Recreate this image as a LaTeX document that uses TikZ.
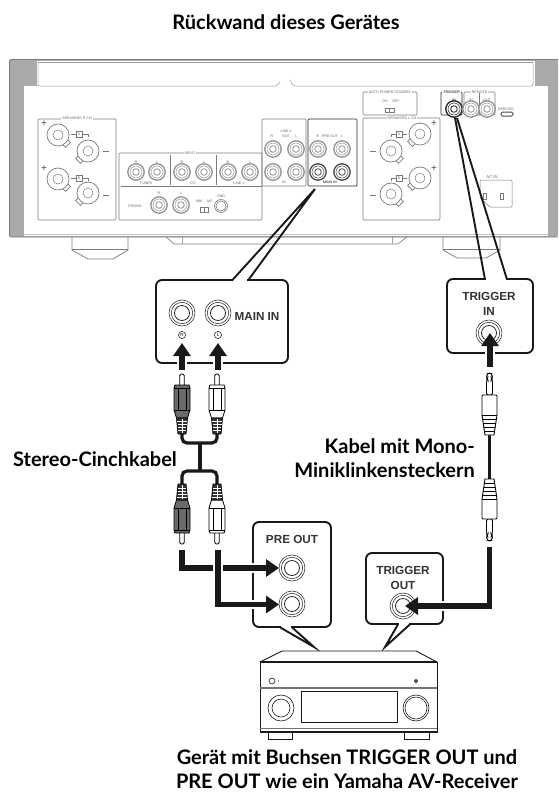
\documentclass[tikz,border=0pt]{standalone}
\usepackage{fontspec}
\setmainfont{Lato}
\newfontfamily\arialf{Liberation Sans}
\usetikzlibrary{arrows.meta,calc}
\definecolor{devline}{HTML}{7A7A7C}
\definecolor{devgray}{HTML}{A9AAAC}
\definecolor{darkplug}{HTML}{6A6A6C}
\newcounter{labc}
\tikzset{
  x=1pt,y=-1pt,
  devbox/.style={draw=devline,line width=0.6pt,rounded corners=1pt},
  devblack/.style={draw=black!85,line width=0.7pt,rounded corners=1pt},
  tinylab/.style={font=\arialf\fontsize{3.6}{4}\selectfont,text=black!60,inner sep=0.5pt},
  boxlab/.style={font=\arialf\fontsize{3.6}{4}\selectfont,text=black!60,inner sep=1pt,fill=white},
  bigtxt/.style={font=\bfseries\fontsize{20}{24}\selectfont,align=center,inner sep=0pt,text=black},
  bubtxt/.style={font=\arialf\bfseries\fontsize{11.7}{15}\selectfont,align=center,inner sep=0pt,text=black!80},
  bubble/.style={draw=black!90,line width=1.9pt,rounded corners=6pt,fill=white,inner sep=0pt},
  bubedge/.style={draw=black!90,line width=1.9pt,line join=miter},
  sigarrow/.style={line width=5.4pt,draw=black!90,-{Triangle[width=17pt,length=13pt]}},
  sigline/.style={line width=5.4pt,draw=black!90},
  halo/.style={line width=9.5pt,draw=white},
  cable/.style={line width=3.2pt,draw=black!90,rounded corners=5pt},
  thin ring/.style={draw=black!85,line width=0.55pt},
}
\newcommand\lab[4][tinylab]{\stepcounter{labc}\node[#1] (lab\thelabc) at (#2,#3) {#4};}
% bubble socket
\newcommand\bjack[2]{\draw[thin ring,fill=white] (#1,#2) circle[radius=13];
  \draw[thin ring] (#1,#2) circle[radius=10.7];
  \draw[thin ring,line width=0.8pt] (#1,#2) circle[radius=7.5];}
% device socket
\newcommand\djack[3][black!42]{\draw[#1,line width=1.3pt,fill=white] (#2,#3) circle[radius=8.2];
  \draw[#1,line width=0.5pt] (#2,#3) circle[radius=6];
  \draw[#1,line width=0.8pt] (#2,#3) circle[radius=3.3];}
\newcommand\term[3]{\begin{scope}[shift={(#1,#2)},rotate=#3]
  \draw[devline,line width=0.7pt,fill=white] (8.5,-3.5) rectangle (14,3.5);
  \draw[devline,line width=0.7pt,fill=white] (0,0) circle[radius=11];
  \draw[devline,line width=0.5pt] (0,0) circle[radius=5];
  \end{scope}}
% RCA plug: #1 x, #2 tip y, #3 direction (1 tip up, -1 tip down), #4 fill
\newcommand\rca[4]{\begin{scope}[shift={(#1,#2)},yscale=#3]
  \draw[black,line width=0.8pt,fill=white,rounded corners=1.5pt] (-2.2,13) -- (-2.2,0) -- (2.2,0) -- (2.2,13);
  \draw[black,line width=0.8pt,fill=#4] (-8,14) -- (-7,11) -- (7,11) -- (8,14) -- (8,36) -- (5.5,44) -- (-5.5,44) -- (-8,36) -- cycle;
  \draw[black,line width=0.6pt] (-4,14) -- (-4,36) (4,14) -- (4,36) (-8,14) -- (8,14) (-8,36) -- (8,36);
  \draw[black,line width=0.8pt,fill=black!80] (-5.5,44) -- (5.5,44) -- (4,60) -- (-4,60) -- cycle;
  \draw[white,line width=0.35pt] (-4.6,47) -- (4.6,47) (-4.5,50) -- (4.5,50) (-4.3,53) -- (4.3,53) (-4.1,56) -- (4.1,56) (0,45) -- (0,59);
  \end{scope}}
% mono plug
\newcommand\mono[3]{\begin{scope}[shift={(#1,#2)},yscale=#3]
  \draw[black,line width=0.9pt,fill=white,rounded corners=1.5pt] (-2,6) -- (-2.6,5) -- (-2.6,1) -- (0,0) -- (2.6,1) -- (2.6,5) -- (2,6) -- (3,8) -- (3,22) -- (-3,22) -- (-3,8) -- cycle;
  \draw[black,line width=0.9pt,fill=white] (-7.5,23) -- (-6.5,22) -- (6.5,22) -- (7.5,23) -- (7.5,42) -- (4.5,62) -- (-4.5,62) -- (-7.5,42) -- cycle;
  \draw[black,line width=0.8pt] (-7.5,42) -- (7.5,42) (-6.9,46) -- (6.9,46) (-6.3,50) -- (6.3,50) (-5.7,54) -- (5.7,54) (-5.1,58) -- (5.1,58);
  \end{scope}}
\begin{document}
\begin{tikzpicture}
\useasboundingbox (0,0) rectangle (558,793);
\fill[white] (0,0) rectangle (558,793);

%%%% Title
\node[bigtxt] (title) at (286,22) {Rückwand dieses Gerätes};

%%%% Rear panel
% feet
\draw[devline,line width=0.7pt,fill=white] (72,236) -- (72,250) -- (88,259) -- (113,259) -- (128,250) -- (128,236);
\draw[devline,line width=0.5pt] (72,249) -- (128,249);
\draw[devline,line width=0.7pt,fill=white] (443,236) -- (443,250) -- (457,258) -- (486,258) -- (500,250) -- (500,236);
\draw[devline,line width=0.5pt] (443,249) -- (500,249);
\draw[devline,line width=0.6pt,fill=white] (165,236) -- (174,244) -- (398,244) -- (408,236);
\draw[black!35,line width=0.5pt] (182,237) -- (182,244) (392,237) -- (392,244);
% body
\fill[devgray,rounded corners=2pt] (9.5,59.5) rectangle (558,237);
\draw[devline,line width=0.9pt,rounded corners=2pt] (558,237) -- (9.5,237) -- (9.5,59.5) -- (558,59.5);
\fill[white] (24,86) rectangle (548,236);
\fill[white] (37,61) rectangle (535,86);
\draw[black!25,line width=1pt] (24,234.6) -- (548,234.6);
\draw[black!40,line width=0.5pt,rounded corners=2pt] (38,62) -- (38,86) -- (277,86) -- (280,82);
\draw[black!40,line width=0.5pt,rounded corners=2pt] (290,80) -- (293,86) -- (533,86) -- (533,62);
\draw[black!40,line width=0.5pt] (38,62) -- (533,62);
% Speakers R
\draw[devbox] (38,119) rectangle (116,220);
\lab[boxlab]{77}{118}{SPEAKERS R CH}
\term{58}{135}{-45}
\term{88}{151}{-135}
\term{58}{179}{-45}
\term{88}{193}{-135}
\lab[font=\arialf\fontsize{10}{10}\selectfont,inner sep=0pt,text=black!70]{44}{124}{+}
\lab[font=\arialf\fontsize{10}{10}\selectfont,inner sep=0pt,text=black!70]{44}{169}{+}
\draw[devline,line width=0.6pt] (103,151) -- (109,151) (103,195) -- (109,195);
\draw[devline,line width=0.4pt] (71,134) -- (76,134) (76,131.5) rectangle (82,137) (82,134) -- (88,134) -- (88,137);
\draw[devline,line width=0.4pt] (71,178) -- (76,178) (76,175.5) rectangle (82,181) (82,178) -- (88,178) -- (88,181);
\lab{79}{134.3}{A}
\lab{79}{178.3}{B}
% Input
\draw[devbox] (119,153) rectangle (262,220);
\lab[boxlab]{190}{153.5}{INPUT}
\draw[devline,line width=0.5pt] (170,155) -- (170,185) (216,155) -- (216,185) (121,186) -- (262,186);
\foreach \p in {136,157,182,204,228,250}{\djack{\p}{172}}
\lab{136}{162}{R}\lab{157}{162}{L}\lab{182}{162}{R}\lab{204}{162}{L}\lab{228}{162}{R}\lab{250}{162}{L}
\lab{146}{183}{TUNER}\lab{193}{183}{CD}\lab{239}{183}{LINE 1}
\djack{159}{205}\djack{181}{205}
\lab{159}{193}{R}\lab{181}{193}{L}
\lab{135}{206}{PHONO}
\lab{199}{201}{MM}\lab{210}{201}{MC}
\draw[devline,line width=0.4pt] (200.5,207) rectangle (208,212) (204.2,207) -- (204.2,212);
\lab{221}{196}{GND}
\draw[devline,line width=0.6pt] (221,206) circle[radius=6.5] (221,206) circle[radius=5];
% Line 2
\draw[devbox] (262,119) rectangle (306,186);
\lab{272}{136}{R}\lab{286}{131}{LINE 2}\lab{286}{136}{OUT}\lab{296}{136}{L}\lab{284}{182}{IN}
\djack{273}{149}\djack{296}{149}\djack{273}{172}\djack{296}{172}
% Main in
\draw[devblack] (308,119) rectangle (357,186);
\lab{318}{136}{R}\lab{330}{136}{PRE OUT}\lab{342}{136}{L}\lab[tinylab,text=black]{330}{182}{MAIN IN}
\djack{318}{149}\djack{342}{149}\djack[black!70]{318}{172}\djack[black!70]{342}{172}
% Auto power
\draw[devbox] (363,92) rectangle (417,115);
\lab[boxlab]{390}{92}{AUTO POWER STANDBY}
\lab{385}{101}{ON}\lab{396}{101}{OFF}
\draw[devline,line width=0.4pt] (385,108) rectangle (394,112.5) (389.5,108) -- (389.5,112.5);
% Speakers L
\draw[devbox] (363,118) rectangle (440,220);
\lab[boxlab]{402}{118}{SPEAKERS L CH}
\term{420}{134}{-135}
\term{391}{151}{-45}
\term{420}{178}{-135}
\term{391}{194}{-45}
\lab[font=\arialf\fontsize{10}{10}\selectfont,inner sep=0pt,text=black!70]{434}{124}{+}
\lab[font=\arialf\fontsize{10}{10}\selectfont,inner sep=0pt,text=black!70]{434}{169}{+}
\draw[devline,line width=0.6pt] (370,151) -- (376,151) (370,195) -- (376,195);
\draw[devline,line width=0.4pt] (391,137) -- (391,134) -- (396,134) (396,131.5) rectangle (402,137) (402,134) -- (407,134);
\draw[devline,line width=0.4pt] (391,181) -- (391,178) -- (396,178) (396,175.5) rectangle (402,181) (402,178) -- (407,178);
\lab{399}{134.3}{A}\lab{399}{178.3}{B}
% Trigger
\draw[devblack] (441,92) rectangle (462,115);
\lab[boxlab,text=black]{451.5}{92}{TRIGGER}
\lab[tinylab,text=black]{454}{100}{IN}
\djack[black!85]{454}{109}
% Remote
\draw[devbox] (464,92) rectangle (495,115);
\lab[boxlab]{479.5}{92}{REMOTE}
\draw[devline,line width=0.4pt] (479.3,93) -- (479.3,115);
\lab{471}{100}{IN}\lab{487}{100}{OUT}
\djack{471}{109}\djack{487}{109}
\lab{506}{109}{SERVICE}
\draw[black!70,line width=1pt,rounded corners=1.5pt] (501,112) rectangle (513,116);
% AC in
\lab[tinylab,font=\arialf\fontsize{4.2}{5}\selectfont]{492}{177}{AC IN}
\draw[devline,line width=0.5pt,rounded corners=1pt] (480,180) -- (512,180) -- (512,207) -- (490,207) -- (480,198) -- cycle;
\draw[devline,line width=0.5pt] (483,193) rectangle (486,199) (500,193) rectangle (503,199);

%%%% Upper bubbles
\coordinate (mainTip) at (315,189);
\coordinate (trigTipA) at (455,118);
\coordinate (trigTipB) at (457,118);
\node[bubble,minimum width=132pt,minimum height=83pt] (mainbub) at (222,321.5) {};
\draw[white,line width=3pt] (233,280) -- (247,280);
\draw[bubedge] (232,280.5) -- (mainTip) -- (248,280.5);
\node[bubble,minimum width=86pt,minimum height=74pt] (trigbub) at (490,316) {};
\draw[white,line width=3pt] (486,279) -- (506,279);
\draw[bubedge] (485,279.5) -- (trigTipA);
\draw[bubedge] (trigTipB) -- (507,279.5);

\bjack{182}{313}\bjack{218}{313}
\draw[thin ring] (182,335) circle[radius=3.6] (218,335) circle[radius=3.6];
\lab[font=\arialf\fontsize{4.5}{5}\selectfont,inner sep=0pt]{182}{335}{R}
\lab[font=\arialf\fontsize{4.5}{5}\selectfont,inner sep=0pt]{218}{335}{L}
\node[bubtxt,anchor=center] (mainin) at (257,316) {MAIN IN};
\node[bubtxt] (trigin) at (489,303.5) {TRIGGER\\IN};
\bjack{489}{333}

\coordinate (rA) at (182,370);\coordinate (rB) at (182,343);
\coordinate (lA) at (218,370);\coordinate (lB) at (218,343);
\coordinate (tA) at (490,367);\coordinate (tB) at (490,333);
\draw[halo] (rA) -- (182,356);\draw[halo] (lA) -- (218,356);\draw[halo] (tA) -- (490,345);
\draw[sigarrow] (rA) -- (rB);
\draw[sigarrow] (lA) -- (lB);
\draw[sigarrow] (tA) -- (tB);

%%%% Stereo cables
\draw[cable] (182,432) -- (182,443) -- (217,443) -- (217,432);
\draw[cable,rounded corners=0pt] (200,443) -- (200,471);
\draw[cable] (182,486) -- (182,471) -- (217,471) -- (217,486);
\rca{182}{374}{1}{darkplug}
\rca{217}{374}{1}{white}
\rca{182}{544}{-1}{darkplug}
\rca{217}{544}{-1}{white}
\node[bigtxt] (stereo) at (95,459) {Stereo-Cinchkabel};

%%%% Mono cable
\draw[line width=3.2pt,draw=black!90] (489.5,433) -- (489.5,481);
\mono{489.5}{373}{1}
\mono{489.5}{541}{-1}
\node[bigtxt,align=right,anchor=east] (monotxt) at (475,458) {Kabel mit Mono-\\Miniklinkensteckern};

%%%% Lower bubbles
\coordinate (preTip) at (314,647);
\coordinate (toutTip) at (385,647);
\node[bubble,minimum width=78pt,minimum height=105pt] (prebub) at (292,574.5) {};
\draw[white,line width=3pt] (281,627) -- (291,627);
\draw[bubedge] (280,627.3) -- (preTip) -- (292,627.3);
\node[bubtxt] (preout) at (292,539) {PRE OUT};
\bjack{292}{568}\bjack{292}{604}

\node[bubble,minimum width=77pt,minimum height=71pt] (toutbub) at (404.5,588.5) {};
\draw[white,line width=3pt] (399,624) -- (409,624);
\draw[bubedge] (398,624.3) -- (toutTip) -- (410,624.3);
\node[bubtxt] (trigout) at (403,577.5) {TRIGGER\\OUT};
\bjack{403}{606}

\coordinate (s1) at (182,550);\coordinate (s1c) at (182,568);\coordinate (j1) at (279,568);
\coordinate (s2) at (218,550);\coordinate (s2c) at (218,604.5);\coordinate (j2) at (279,604.5);
\coordinate (s3) at (489.5,547);\coordinate (s3c) at (489.5,606);\coordinate (j3) at (405,606);
\draw[halo] (190,568) -- (267,568);
\draw[halo] (230,604.5) -- (267,604.5);
\draw[halo] (489,606) -- (418,606);
\draw[sigarrow] (s1) -- (s1c) -- (j1);
\draw[white,line width=9.5pt] (218,560) -- (218,576);
\draw[sigarrow] (s2) -- (s2c) -- (j2);
\draw[sigarrow] (s3) -- (s3c) -- (j3);

%%%% Receiver
\draw[black!90,line width=0.7pt,fill=white] (268,732) rectangle (292,739);
\draw[black!90,line width=0.7pt,fill=white] (404,732) rectangle (429,739);
\draw[black!90,line width=0.9pt,fill=white,line join=round] (260,662) -- (282,651) -- (416,651) -- (437,662) -- cycle;
\draw[black!90,line width=0.9pt,fill=white] (260,662) rectangle (437,732);
\draw[black!90,line width=1.4pt] (260,662) -- (437,662);
\draw[black!55,line width=1.2pt] (260,688) -- (437,688);
\draw[black!55,line width=0.9pt] (260,728.5) -- (437,728.5);
\draw[black!90,line width=1.4pt] (260,732) -- (437,732);
\draw[black!90,line width=0.8pt] (301,691) rectangle (397,722);
\draw[black!90,line width=0.6pt] (281,708) circle[radius=13] (281,708) circle[radius=9];
\draw[black!90,line width=0.6pt] (416,708) circle[radius=13] (416,708) circle[radius=11];
\draw[black!90,line width=0.6pt] (272,681) circle[radius=3];
\fill[black!90] (278.5,681) circle[radius=0.6];
\draw[black!90,line width=0.8pt] (416,681) circle[radius=1.5];

\node[bigtxt] (bottomtxt) at (347,769.5) {Gerät mit Buchsen TRIGGER OUT und\\PRE OUT wie ein Yamaha AV-Receiver};
\end{tikzpicture}
\end{document}
